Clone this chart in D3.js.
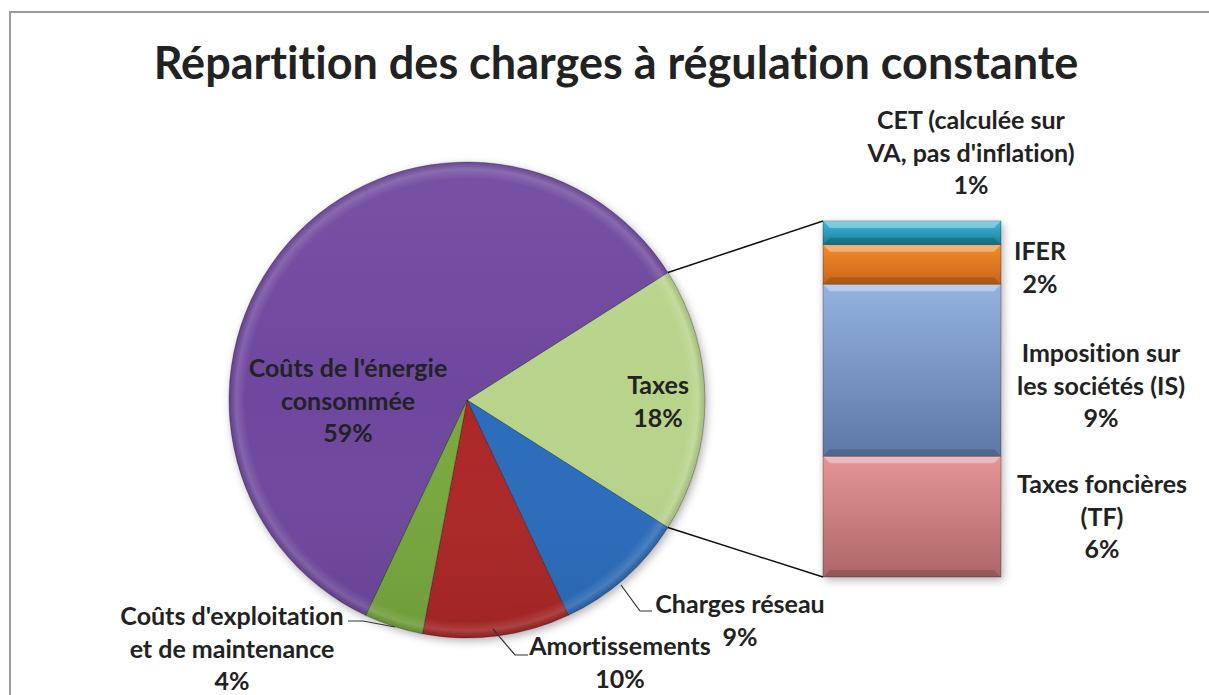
<!DOCTYPE html>
<html>
<head>
<meta charset="utf-8">
<script src="https://cdn.jsdelivr.net/npm/d3@7"></script>
<style>
  body { margin: 0; background: #fff; }
  svg { display: block; }
  text { font-family: Lato, "Open Sans", sans-serif; font-weight: bold; fill: #222;
         font-variant-ligatures: none; font-feature-settings: "liga" 0; }
</style>
</head>
<body>
<svg width="1209" height="695"></svg>
<script>
// données
const pieLabels = [["Taxes"], ["Charges réseau"], ["Amortissements"],
                   ["Coûts d'exploitation", "et de maintenance"],
                   ["Coûts de l'énergie", "consommée"]];
const pieValues = [18, 9, 10, 4, 59];
const pieColors = ["#b8d48a", "#2b6cbc", "#ad2628", "#77a83c", "#6e479e"];

// détail de la part "Taxes" (de bas en haut)
const barLabels = [["Taxes foncières", "(TF)"], ["Imposition sur", "les sociétés  (IS)"],
                   ["IFER"], ["CET (calculée sur", "VA, pas d'inflation)"]];
const barValues = [6.1, 8.7, 2.0, 1.2];
const barColors = [["#e59697", "#ad6667"], ["#95b3df", "#5c78a6"],
                   ["#f18b2c", "#c9661b"], ["#3db9d7", "#1a7e98"]];

const title = "Répartition des charges à régulation constante";

const svg = d3.select("svg");
const W = 1209, H = 695;

// cadre
svg.append("path")
   .attr("d", `M10,${H} L10,12 L${W},12`)
   .attr("fill", "none").attr("stroke", "#9a9a9a").attr("stroke-width", 2);

svg.append("text")
   .attr("x", 616).attr("y", 79)
   .attr("text-anchor", "middle")
   .style("font-size", "45px")
   .text(title);

const defs = svg.append("defs");
const shadow = defs.append("filter").attr("id", "shadow")
   .attr("x", "-20%").attr("y", "-20%").attr("width", "140%").attr("height", "140%");
shadow.append("feDropShadow").attr("dx", 2).attr("dy", 3)
   .attr("stdDeviation", 4).attr("flood-opacity", 0.3);

// camembert
const cx = 467, cy = 400, R = 238;
const total = d3.sum(pieValues);
const start = Math.PI / 2 - Math.PI * pieValues[0] / total; // Taxes centrée à droite
const pie = d3.pie().sort(null).startAngle(start).endAngle(start + 2 * Math.PI);
const arcs = pie(pieValues);
const arc = d3.arc().innerRadius(0).outerRadius(R);

const gPie = svg.append("g").attr("transform", `translate(${cx},${cy})`);

const rim = defs.append("radialGradient").attr("id", "rim")
   .attr("gradientUnits", "userSpaceOnUse").attr("cx", 0).attr("cy", 0).attr("r", R);
[[0, "#fff", 0], [0.93, "#fff", 0], [0.97, "#fff", 0.15], [1, "#000", 0.12]]
   .forEach(s => rim.append("stop").attr("offset", s[0]).attr("stop-color", s[1]).attr("stop-opacity", s[2]));
const shade = defs.append("linearGradient").attr("id", "shade")
   .attr("gradientUnits", "userSpaceOnUse").attr("x1", 0).attr("y1", -R).attr("x2", 0).attr("y2", R);
[[0, "#fff", 0.06], [0.5, "#fff", 0], [1, "#000", 0.08]]
   .forEach(s => shade.append("stop").attr("offset", s[0]).attr("stop-color", s[1]).attr("stop-opacity", s[2]));

gPie.append("g").attr("filter", "url(#shadow)")
   .selectAll("path").data(arcs).enter().append("path")
   .attr("d", arc)
   .attr("fill", (d, i) => pieColors[i])
   .attr("stroke", "rgba(0,0,0,0.35)").attr("stroke-width", 0.8);
gPie.selectAll(".ov").data(arcs).enter().append("path")
   .attr("d", arc).attr("fill", "url(#rim)");
gPie.selectAll(".ov2").data(arcs).enter().append("path")
   .attr("d", arc).attr("fill", "url(#shade)");

// barre de détail
const barX = 823, barW = 178;
const y = d3.scaleLinear().domain([0, d3.sum(barValues)]).range([577, 221]);
const stacked = [];
barValues.reduce((acc, v, i) => { stacked.push({ i, y0: acc, y1: acc + v }); return acc + v; }, 0);

barColors.forEach((c, i) => {
  const g = defs.append("linearGradient").attr("id", "bar" + i)
     .attr("x1", 0).attr("y1", 0).attr("x2", 0).attr("y2", 1);
  g.append("stop").attr("offset", 0).attr("stop-color", c[0]);
  g.append("stop").attr("offset", 1).attr("stop-color", c[1]);
});

const gBar = svg.append("g").attr("filter", "url(#shadow)");
gBar.selectAll("rect").data(stacked).enter().append("rect")
   .attr("x", barX).attr("width", barW)
   .attr("y", d => y(d.y1)).attr("height", d => y(d.y0) - y(d.y1))
   .attr("fill", d => `url(#bar${d.i})`)
   .attr("stroke", "rgba(0,0,0,0.35)").attr("stroke-width", 0.8);
// biseau
svg.selectAll(".bev").data(stacked).enter().append("path")
   .attr("d", d => {
     const t = y(d.y1), b = y(d.y0), e = Math.min(7, (b - t) / 3);
     return `M${barX},${t} L${barX + barW},${t} L${barX + barW - e},${t + e} L${barX + e},${t + e} Z`;
   })
   .attr("fill", "#fff").attr("fill-opacity", 0.35);
svg.selectAll(".bevb").data(stacked).enter().append("path")
   .attr("d", d => {
     const t = y(d.y1), b = y(d.y0), e = Math.min(7, (b - t) / 3);
     return `M${barX},${b} L${barX + barW},${b} L${barX + barW - e},${b - e} L${barX + e},${b - e} Z`;
   })
   .attr("fill", "#000").attr("fill-opacity", 0.15);

// lignes de liaison camembert -> barre
const tA = arcs[0];
const pTop = [cx + R * Math.sin(tA.startAngle), cy - R * Math.cos(tA.startAngle)];
const pBot = [cx + R * Math.sin(tA.endAngle), cy - R * Math.cos(tA.endAngle)];
svg.append("line").attr("x1", pTop[0]).attr("y1", pTop[1]).attr("x2", barX).attr("y2", y.range()[1])
   .attr("stroke", "#111").attr("stroke-width", 1.5);
svg.append("line").attr("x1", pBot[0]).attr("y1", pBot[1]).attr("x2", barX).attr("y2", y.range()[0])
   .attr("stroke", "#111").attr("stroke-width", 1.5);

// étiquettes (position de la première ligne de base, centre)
const pieLabelPos = [[658, 394], [740, 613], [620, 655], [232, 625], [348, 377]];
const barLabelPos = [[1102, 493], [1101, 362], [1040, 260], [971, 129]];
const lh = 32.5;

function drawLabel(lines, pct, pos) {
  const t = svg.append("text").attr("text-anchor", "middle").style("font-size", "25px");
  lines.concat([pct]).forEach((s, k) => {
    t.append("tspan").attr("x", pos[0]).attr("y", pos[1] + k * lh).text(s);
  });
}
pieLabels.forEach((l, i) => drawLabel(l, Math.round(pieValues[i] / total * 100) + "%", pieLabelPos[i]));
barLabels.forEach((l, i) => drawLabel(l, Math.round(barValues[i]) + "%", barLabelPos[i]));

// lignes de rappel
const leaders = [
  [[621, 585], [640, 611], [652, 611]],
  [[493, 629], [515, 655], [528, 655]],
  [[395, 627], [363, 621], [348, 621]]
];
svg.selectAll(".lead").data(leaders).enter().append("path")
   .attr("d", d3.line())
   .attr("fill", "none").attr("stroke", "#333").attr("stroke-width", 1.2);
</script>
</body>
</html>
